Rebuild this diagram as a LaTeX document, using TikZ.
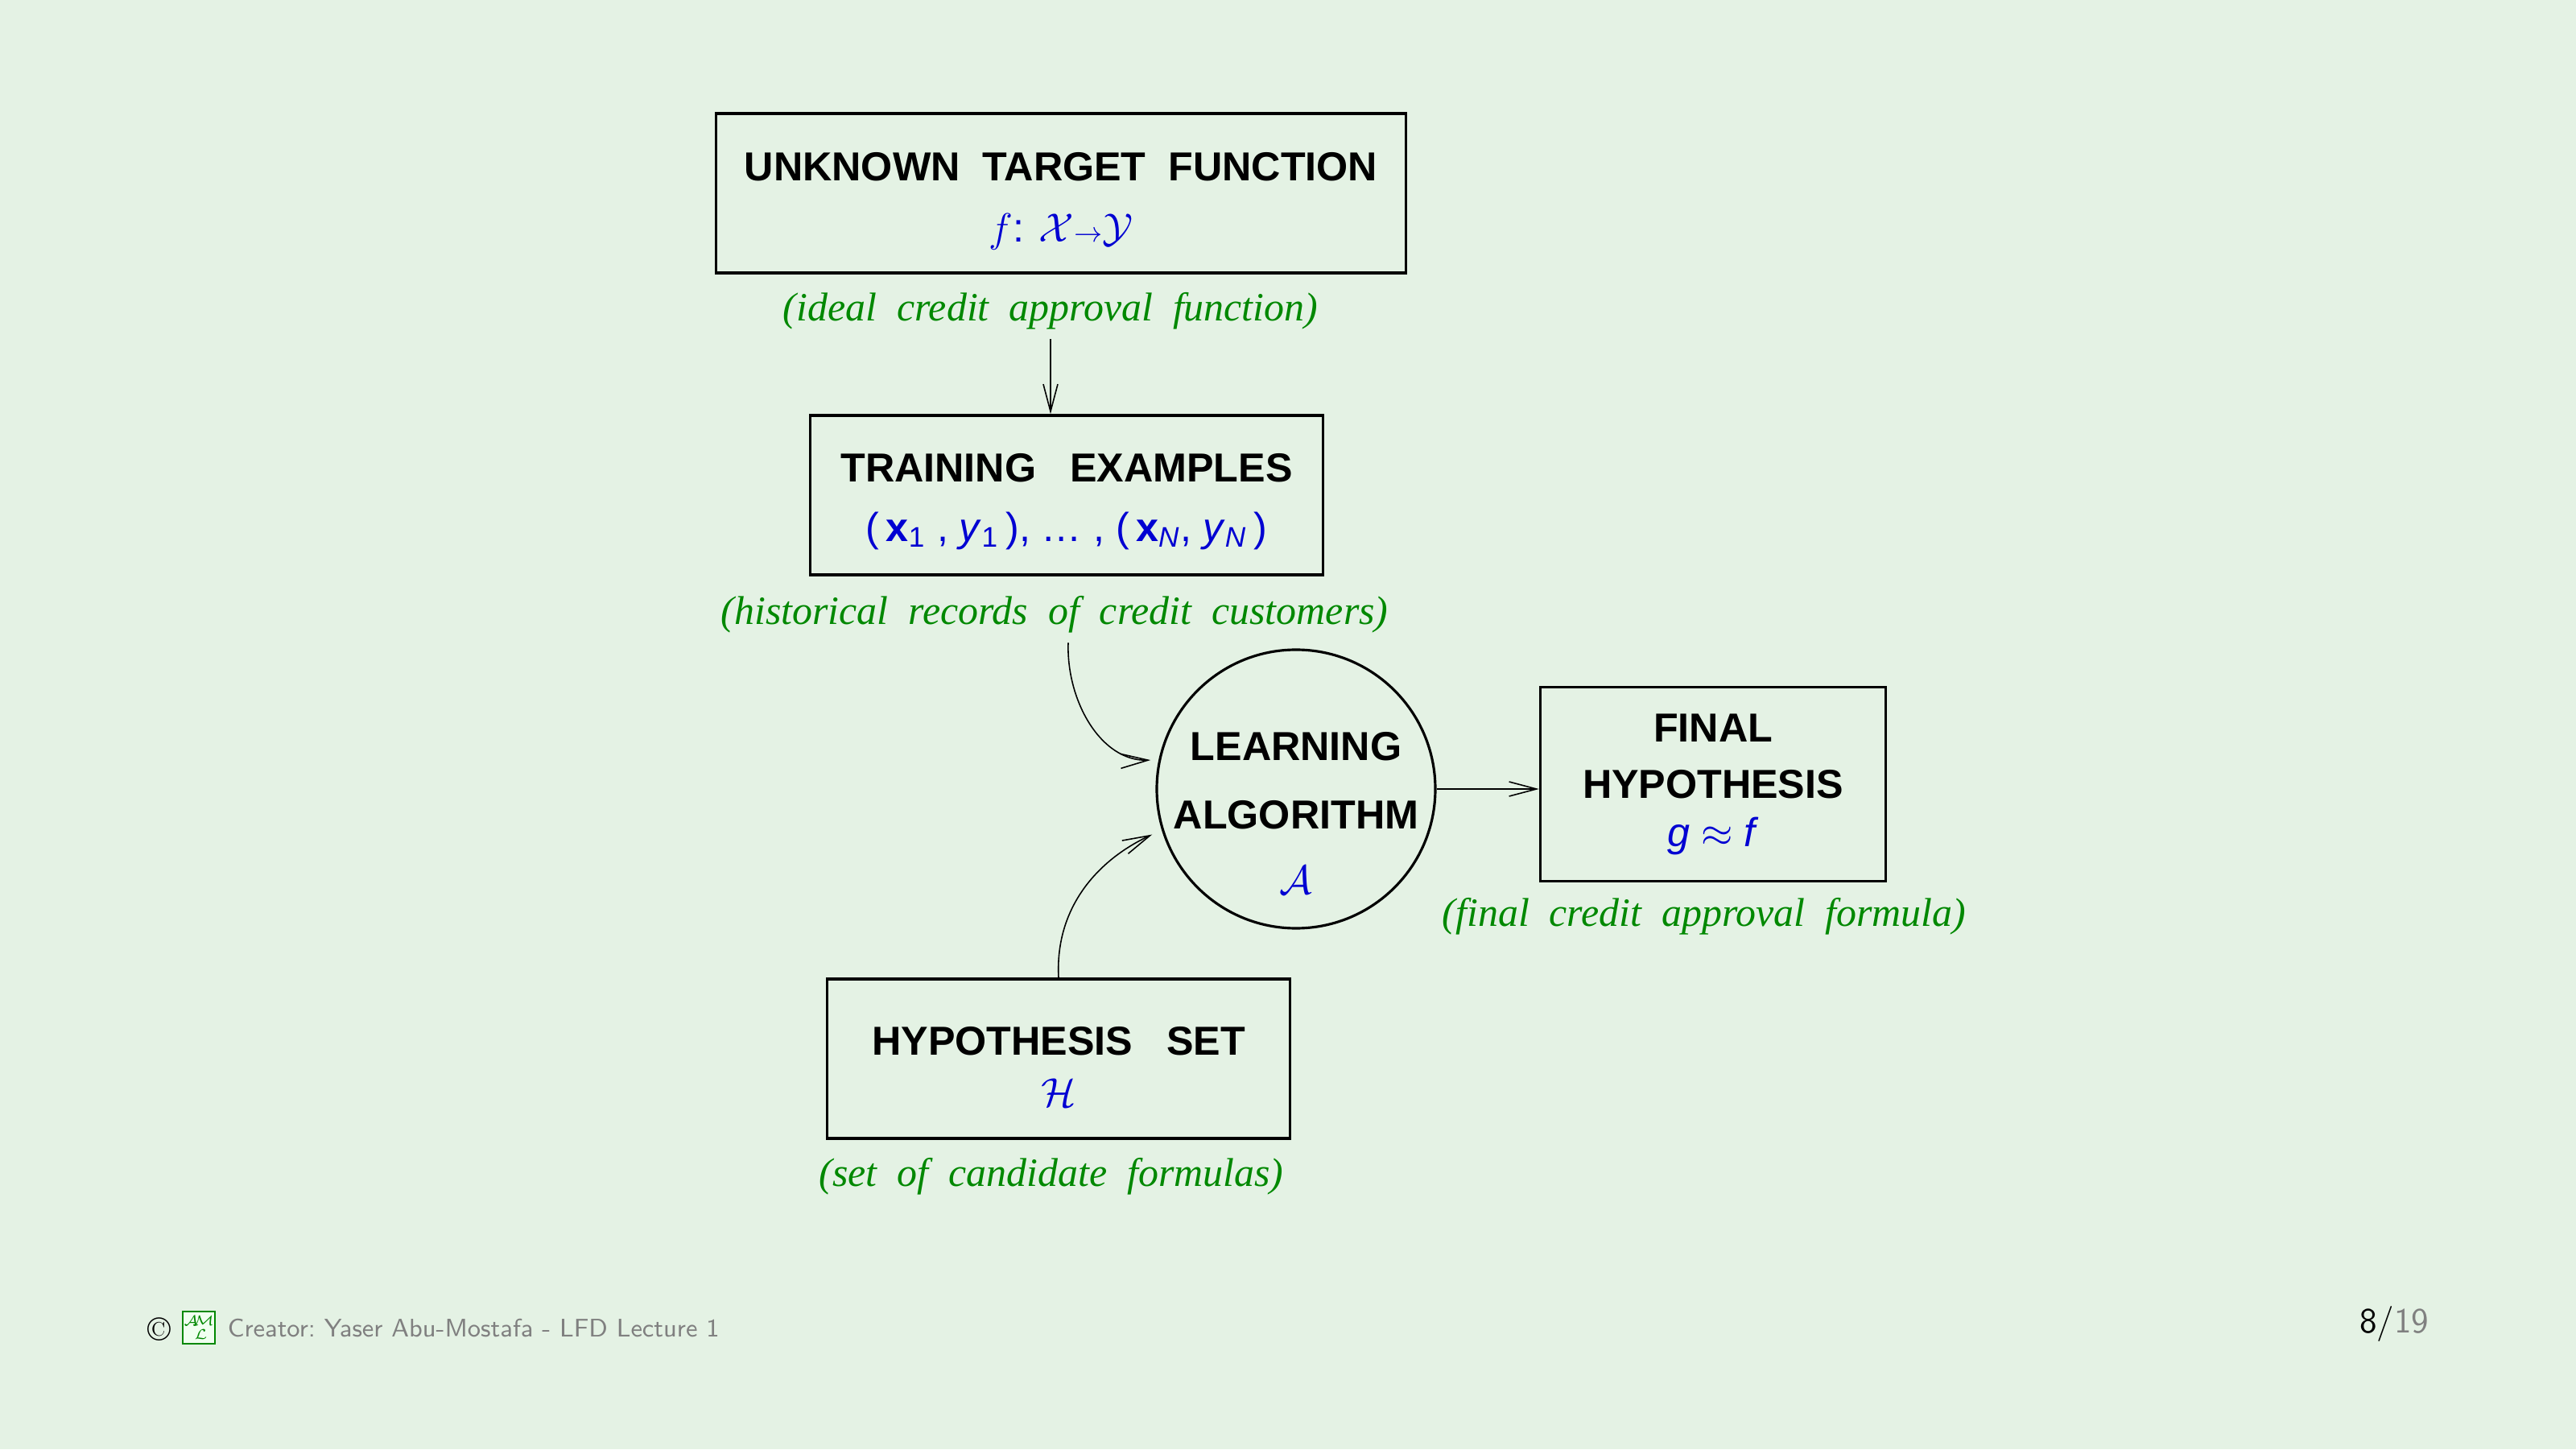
\documentclass[tikz,border=0pt]{standalone}
\usepackage{fontspec}
\usepackage{tikz}
\usetikzlibrary{arrows.meta}
\newfontfamily\boxfont{Liberation Sans}
\newfontfamily\capfont{Liberation Serif}
\definecolor{slidebg}{RGB}{228,242,228}
\definecolor{capgreen}{RGB}{0,136,0}
\definecolor{formblue}{RGB}{0,0,210}
\tikzstyle{box} = [draw, line width=1pt, minimum height=1.98cm, align=center, font=\boxfont\bfseries\fontsize{14.3}{17}\selectfont]
\tikzstyle{algo} = [draw, circle, line width=.9pt, minimum size=3.46cm, inner sep=0pt]
\tikzstyle{caption} = [text=capgreen, font=\capfont\itshape\fontsize{14.2}{17}\selectfont]
\tikzstyle{footer} = [font=\sffamily\fontsize{9}{11}\selectfont]
\newcommand{\frm}[1]{{\color{formblue}\mdseries #1}}

\begin{document}
\begin{tikzpicture}[>={Straight Barb[length=3.4mm,width=1.8mm]}, line width=.45pt]
    \fill[slidebg] (0,0) rectangle (32,18);
    \useasboundingbox (0,0) rectangle (32,18);
    \draw (13.18,15.60) node[box, minimum width=8.57cm] (target) {};
    \draw ([yshift=-1mm]target) node[box, draw=none] (targettext) {UNKNOWN~~TARGET~~FUNCTION\\[4.5pt] \frm{$f$: $\mathcal{X}{\scriptstyle\rightarrow}\mathcal{Y}$}};
    \draw (13.05,14.14) node[caption] (targetcap) {(ideal~~credit~~approval~~function)};
    \draw (13.25,11.85) node[box, minimum width=6.37cm] (train) {};
    \draw ([yshift=-.8mm]train) node[box, draw=none] (traintext) {TRAINING~~~EXAMPLES\\[4pt] \frm{(\,\textbf{x}\textsubscript{1} , \textit{y}\textsubscript{1}\,), \dots\ , (\,\textbf{x}\textsubscript{\textit{N}}, \textit{y}\textsubscript{\textit{N}}\,)}};
    \draw (13.10,10.37) node[caption] (traincap) {(historical~~records~~of~~credit~~customers)};
    \draw (16.10,8.20) node[algo] (learn) {};
    \draw ([yshift=-3mm]learn) node[box, draw=none] (learntext) {LEARNING\\[7pt]ALGORITHM\\[6pt]\frm{$\mathcal{A}$}};
    \draw (21.28,8.26) node[box, minimum width=4.29cm, minimum height=2.41cm] (final) {FINAL\\[3pt]HYPOTHESIS\\[0pt]\frm{\textit{g} $\approx$ \textit{f}}};
    \draw (21.17,6.62) node[caption] (finalcap) {(final~~credit~~approval~~formula)};
    \draw (13.15,4.85) node[box, minimum width=5.75cm] (hyps) {};
    \draw ([yshift=-1mm]hyps) node[box, draw=none] (hypstext) {HYPOTHESIS~~~SET\\[1pt]\frm{$\mathcal{H}$}};
    \draw (13.06,3.39) node[caption] (hypscap) {(set~~of~~candidate~~formulas)};
    \draw [->] (targetcap.south) -- (targetcap.south |- train.north);
    \draw [->, shorten >=1mm] ([xshift=1.7mm]traincap.south) to[out=-92, in=182] (learn.168);
    \draw [->, shorten >=1.3mm] (hyps.north) to[out=93, in=205] (learn.197);
    \draw [->] (learn.east) -- (learn.east -| final.west);
    % footer
    \node at (1.98,1.49) (copy) {\fontsize{12}{14}\selectfont\textcopyright};
    \node[draw=capgreen, fill=green!6, minimum size=.4cm, inner sep=0pt, text=capgreen, font=\fontsize{5}{5}\selectfont, align=center] (logo) at (2.47,1.51) {$\mathcal{A}\!\!\mathcal{M}$\\[0pt]\hspace{1.5pt}$\mathcal{L}$};
    \node[footer, text=gray, anchor=west, inner sep=0pt] (credit) at (2.82,1.50) {Creator:~Yaser Abu-Mostafa - LFD Lecture 1};
    \node[footer, font=\sffamily\fontsize{12.5}{14}\selectfont, anchor=east, inner sep=0pt] (page) at (30.18,1.55) {8/{\color{gray}19}};
\end{tikzpicture}
\end{document}
